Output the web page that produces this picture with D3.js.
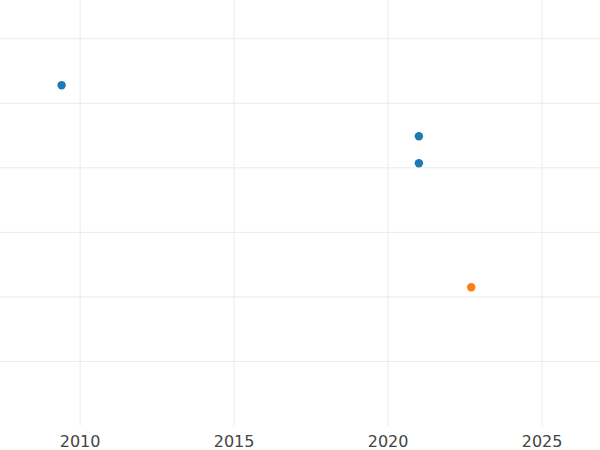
<!DOCTYPE html>
<html><head><meta charset="utf-8">
<script src="https://cdn.jsdelivr.net/npm/d3@7"></script>
<style>body{margin:0;background:#fff}</style></head>
<body><svg id="c" width="600" height="450"></svg>
<script>
const years = [2009.4, 2021.0, 2021.0, 2022.7];
const values = [5.28, 4.49, 4.07, 2.15];
const groups = ['a', 'a', 'a', 'b'];
const xTicks = [2010, 2015, 2020, 2025];
const yGrid = [1, 2, 3, 4, 5, 6];

const svg = d3.select('#c');
const x = d3.scaleLinear().domain([2007.4, 2026.88]).range([0, 600]);
const y = d3.scaleLinear().domain([0, 6.6]).range([426, 0]);
const color = d3.scaleOrdinal().domain(['a', 'b']).range(['#1f77b4', '#ff7f0e']);

// grid
svg.append('g').selectAll('line').data(yGrid).enter().append('line')
  .attr('x1', 0).attr('x2', 600)
  .attr('y1', d => y(d)).attr('y2', d => y(d))
  .attr('stroke', '#ebebeb');
svg.append('g').selectAll('line').data(xTicks).enter().append('line')
  .attr('x1', d => x(d)).attr('x2', d => x(d))
  .attr('y1', 0).attr('y2', 426)
  .attr('stroke', '#ebebeb');

// x axis labels
svg.append('g').selectAll('text').data(xTicks).enter().append('text')
  .attr('x', d => x(d)).attr('y', 447)
  .attr('text-anchor', 'middle')
  .attr('font-family', 'DejaVu Sans')
  .attr('font-size', 16)
  .attr('fill', '#444')
  .text(d => d);

// points
svg.append('g').selectAll('circle').data(years).enter().append('circle')
  .attr('cx', d => x(d))
  .attr('cy', (d, i) => y(values[i]))
  .attr('r', 4.2)
  .attr('fill', (d, i) => color(groups[i]));
</script></body></html>
